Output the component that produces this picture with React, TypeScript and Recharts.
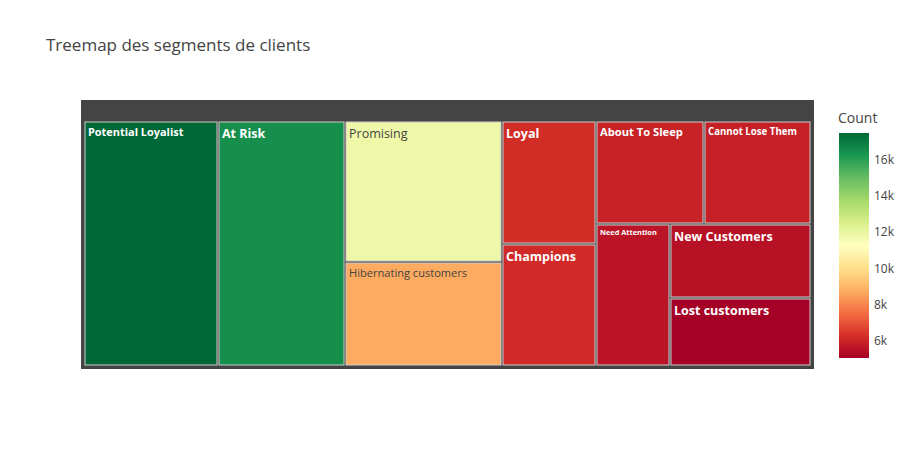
import React from 'react';
import { Treemap } from 'recharts';

const segments = ['Potential Loyalist','At Risk','Promising','Hibernating customers','Loyal','Champions','About To Sleep','Cannot Lose Them','Need Attention','New Customers','Lost customers'];
const counts = [17500,16500,11800,8730,6190,6130,5930,5880,5580,5510,5060];
const colorTicks = [6000,8000,10000,12000,14000,16000];
const tickLabels = ['6k','8k','10k','12k','14k','16k'];

const CMIN = 5060, CMAX = 17500;
const scale: [number, number[]][] = [
  [0,[165,0,38]],[0.1,[215,48,39]],[0.2,[244,109,67]],[0.3,[253,174,97]],[0.4,[254,224,139]],
  [0.5,[255,255,191]],[0.6,[217,239,139]],[0.7,[166,217,106]],[0.8,[102,189,99]],[0.9,[26,152,80]],[1,[0,104,55]],
];
function colorAt(t: number) {
  t = Math.max(0, Math.min(1, t));
  for (let i = 0; i < scale.length - 1; i++) {
    const [a, ca] = scale[i], [b, cb] = scale[i + 1];
    if (t <= b) {
      const f = (t - a) / (b - a);
      const c = ca.map((v, k) => Math.round(v + (cb[k] - v) * f));
      return { css: `rgb(${c[0]},${c[1]},${c[2]})`, lum: 0.299 * c[0] + 0.587 * c[1] + 0.114 * c[2] };
    }
  }
  return { css: 'rgb(0,104,55)', lum: 80 };
}

const leaf = (i: number) => ({ name: segments[i], value: counts[i] });
// grouping only guides the squarified tiling so it matches the reference arrangement
const data = [
  leaf(0),
  leaf(1),
  { name: '', children: [leaf(2), leaf(3)] },
  { name: '', children: [leaf(4), leaf(5)] },
  { name: '', children: [
    { name: '', children: [leaf(6), leaf(7)] },
    { name: '', children: [leaf(8), { name: '', children: [leaf(9), leaf(10)] }] },
  ] },
];

const Tile = (props: any) => {
  const { x, y, width, height, depth, name, value, children } = props;
  if (depth === 0 || (children && children.length)) return null;
  const c = colorAt((value - CMIN) / (CMAX - CMIN));
  const light = c.lum > 150;
  const fs = Math.min(12.5, (width - 8) / (String(name).length * 0.64));
  return (
    <g>
      <rect x={x + 1} y={y + 1} width={width - 2} height={height - 2} fill={c.css} stroke="#ccc" strokeWidth={1} />
      <text x={x + 4} y={y + 4 + fs} fontSize={fs} fill={light ? '#444' : '#fff'} fontWeight={light ? 400 : 700}
        fontFamily="'Open Sans', sans-serif">{name}</text>
    </g>
  );
};

export default function App() {
  const barTop = 133, barBot = 358;
  const yOf = (v: number) => barBot - ((v - CMIN) / (CMAX - CMIN)) * (barBot - barTop);
  return (
    <div style={{ position: 'fixed', left: 0, top: 0, width: 913, height: 450, background: '#fff', fontFamily: "'Open Sans', sans-serif" }}>
      <div style={{ position: 'absolute', left: 46, top: 33, fontSize: 17, color: '#444' }}>Treemap des segments de clients</div>
      <div style={{ position: 'absolute', left: 81, top: 100, width: 733, height: 269, background: '#444' }} />
      <div style={{ position: 'absolute', left: 84, top: 121 }}>
        <Treemap width={727} height={245} data={data} dataKey="value" nameKey="name" aspectRatio={0.88}
          content={<Tile />} isAnimationActive={false} />
      </div>
      <svg style={{ position: 'absolute', left: 0, top: 0 }} width={913} height={450}>
        <defs>
          <linearGradient id="cb" x1="0" y1="1" x2="0" y2="0">
            {scale.map(([t, c]) => <stop key={t} offset={t} stopColor={`rgb(${c[0]},${c[1]},${c[2]})`} />)}
          </linearGradient>
        </defs>
        <text x={838} y={123} fontSize={14} fill="#444" fontFamily="'Open Sans', sans-serif">Count</text>
        <rect x={839} y={barTop} width={30} height={barBot - barTop} fill="url(#cb)" />
        {colorTicks.map((v, i) => (
          <text key={v} x={874} y={yOf(v) + 4} fontSize={12} fill="#444" fontFamily="'Open Sans', sans-serif">{tickLabels[i]}</text>
        ))}
      </svg>
    </div>
  );
}
